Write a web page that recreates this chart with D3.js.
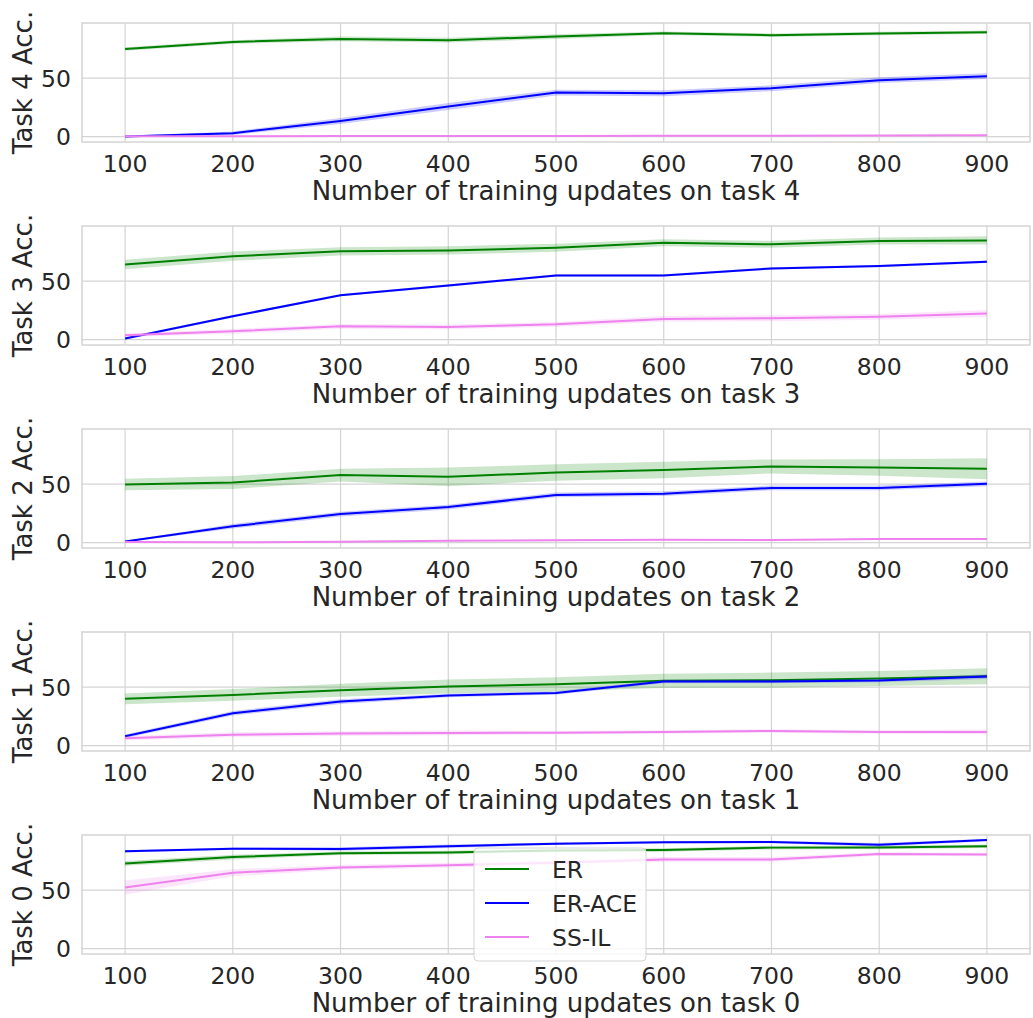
<!DOCTYPE html>
<html>
<head>
<meta charset="utf-8">
<script src="https://cdn.jsdelivr.net/npm/d3@7"></script>
<style>
	body { margin: 0; background: #fff; }
	text { font-family: "DejaVu Sans", sans-serif; fill: #262626; }
</style>
</head>
<body>
<div id="chart"></div>
<script>
// ********** TASK ACCURACY PANELS **********

// Training updates (shared x values)
const updates = [100, 200, 300, 400, 500, 600, 700, 800, 900];

// Panel order, top to bottom
const tasks = [4, 3, 2, 1, 0];

// Method names as in the legend
const methods = ['ER', 'ER-ACE', 'SS-IL'];

// Mean accuracy, one row per panel (task 4 .. task 0)
const erMean = [
	[75.0, 81.0, 83.6, 82.5, 85.6, 88.5, 86.8, 88.2, 89.3],
	[64.3, 71.4, 75.5, 76.3, 78.6, 82.9, 81.5, 84.3, 84.9],
	[49.7, 51.4, 57.8, 56.3, 60.0, 62.1, 65.2, 64.3, 63.2],
	[40.0, 43.4, 47.4, 50.5, 52.5, 55.4, 56.0, 57.4, 59.4],
	[72.9, 78.3, 81.5, 82.3, 84.0, 84.3, 86.4, 86.6, 87.5]
];
const aceMean = [
	[0.2, 2.9, 13.4, 25.7, 37.7, 37.1, 41.4, 48.3, 51.7],
	[0.9, 20.0, 38.0, 46.3, 54.9, 54.9, 60.9, 62.9, 66.6],
	[0.9, 14.0, 24.4, 30.4, 40.8, 41.9, 46.8, 46.8, 50.3],
	[8.0, 27.7, 37.7, 42.8, 45.1, 54.8, 54.8, 55.7, 59.1],
	[83.2, 85.5, 85.2, 87.5, 89.8, 90.9, 91.2, 88.9, 92.9]
];
const sslMean = [
	[0.3, 0.4, 0.5, 0.6, 0.6, 0.8, 0.8, 1.0, 1.2],
	[3.7, 7.1, 11.4, 10.9, 13.1, 17.7, 18.3, 19.5, 22.3],
	[0.5, 0.3, 0.8, 1.5, 2.0, 2.5, 2.2, 3.0, 3.2],
	[6.3, 9.4, 10.3, 10.9, 11.1, 11.7, 12.6, 11.7, 11.7],
	[52.3, 64.9, 69.5, 71.4, 73.5, 76.3, 76.3, 80.9, 80.6]
];

// Half width of the shaded band
const erBand = [
	[1.5, 1.5, 2.0, 2.0, 2.0, 1.5, 1.5, 1.5, 1.5],
	[4.0, 4.0, 3.5, 3.5, 3.5, 3.0, 3.0, 3.0, 3.5],
	[5.0, 5.5, 5.5, 8.0, 7.0, 7.0, 6.0, 7.0, 9.0],
	[4.5, 5.0, 5.5, 6.0, 6.0, 6.0, 6.5, 6.5, 6.8],
	[2.0, 2.0, 1.5, 1.5, 1.5, 1.5, 1.5, 1.5, 1.5]
];
const aceBand = [
	[0.5, 1.5, 2.5, 3.0, 2.5, 2.5, 2.5, 2.5, 2.5],
	[1.0, 1.0, 1.0, 1.0, 1.0, 1.0, 1.0, 1.0, 1.0],
	[0.5, 2.0, 2.0, 2.0, 2.0, 2.0, 2.0, 2.0, 2.0],
	[1.5, 2.0, 2.0, 1.5, 1.5, 1.5, 1.5, 1.5, 2.0],
	[1.0, 1.0, 1.5, 1.5, 1.0, 1.0, 1.0, 1.5, 1.0]
];
const sslBand = [
	[0.3, 0.3, 0.3, 0.3, 0.3, 0.3, 0.3, 0.3, 0.3],
	[1.5, 2.0, 2.0, 2.0, 2.0, 2.5, 2.5, 2.5, 3.0],
	[0.5, 0.5, 0.5, 0.5, 0.5, 0.5, 0.5, 0.5, 0.5],
	[2.0, 2.0, 2.0, 2.0, 1.5, 1.5, 1.5, 1.5, 2.0],
	[6.0, 3.0, 2.0, 2.0, 2.0, 2.0, 2.0, 1.5, 1.5]
];

// Tick values
const xTicks = [100, 200, 300, 400, 500, 600, 700, 800, 900];
const yTicks = [0, 50];

// Layout
const width = 1033, height = 1018;
const left = 82, right = 1030;
const firstTop = 23, panelStep = 203, panelHeight = 119;
const tickSize = '23.5px', labelSize = '26px';

const colors = ['#008000', '#0000ff', '#ee82ee'];
const gridColor = '#d4d4d4';

const svg = d3.select('#chart')
	.append('svg')
	.attr('width', width)
	.attr('height', height);

// x scale with matplotlib style 5% margins
const x = d3.scaleLinear()
	.domain([60, 940])
	.range([left, right]);

// shared y scale
const y = d3.scaleLinear()
	.domain([-4.6, 97.2])
	.range([panelHeight, 0]);

const renderPanel = (p, task) => {
	const g = svg.append('g')
		.attr('transform', `translate(0, ${firstTop + p * panelStep})`);

	// grid lines
	g.selectAll('line.xgrid')
		.data(xTicks)
		.enter()
		.append('line')
		.attr('x1', d => x(d))
		.attr('x2', d => x(d))
		.attr('y1', 0)
		.attr('y2', panelHeight)
		.attr('stroke', gridColor)
		.attr('stroke-width', 1.2);

	g.selectAll('line.ygrid')
		.data(yTicks)
		.enter()
		.append('line')
		.attr('x1', left)
		.attr('x2', right)
		.attr('y1', d => y(d))
		.attr('y2', d => y(d))
		.attr('stroke', gridColor)
		.attr('stroke-width', 1.2);

	// series: bands then lines
	const series = [
		{ mean: erMean[p], band: erBand[p] },
		{ mean: aceMean[p], band: aceBand[p] },
		{ mean: sslMean[p], band: sslBand[p] }
	];

	const area = d3.area()
		.x((d, i) => x(updates[i]))
		.y0(d => y(d[0] - d[1]))
		.y1(d => y(d[0] + d[1]));

	const line = d3.line()
		.x((d, i) => x(updates[i]))
		.y(d => y(d));

	series.forEach((s, k) => {
		g.append('path')
			.datum(s.mean.map((m, i) => [m, s.band[i]]))
			.attr('d', area)
			.attr('fill', colors[k])
			.attr('fill-opacity', 0.2);

		g.append('path')
			.datum(s.mean)
			.attr('d', line)
			.attr('fill', 'none')
			.attr('stroke', colors[k])
			.attr('stroke-width', 2);
	});

	// frame
	g.append('rect')
		.attr('x', left)
		.attr('y', 0)
		.attr('width', right - left)
		.attr('height', panelHeight)
		.attr('fill', 'none')
		.attr('stroke', gridColor)
		.attr('stroke-width', 1.5);

	// tick labels
	g.selectAll('text.xtick')
		.data(xTicks)
		.enter()
		.append('text')
		.attr('x', d => x(d))
		.attr('y', panelHeight + 30)
		.attr('text-anchor', 'middle')
		.attr('font-size', tickSize)
		.text(d => d);

	g.selectAll('text.ytick')
		.data(yTicks)
		.enter()
		.append('text')
		.attr('x', 71)
		.attr('y', d => y(d) + 8.5)
		.attr('text-anchor', 'end')
		.attr('font-size', tickSize)
		.text(d => d);

	// axis labels
	g.append('text')
		.attr('x', (left + right) / 2)
		.attr('y', panelHeight + 58)
		.attr('text-anchor', 'middle')
		.attr('font-size', labelSize)
		.text(`Number of training updates on task ${task}`);

	g.append('text')
		.attr('transform', `translate(32, ${panelHeight / 2}) rotate(-90)`)
		.attr('text-anchor', 'middle')
		.attr('font-size', labelSize)
		.text(`Task ${task} Acc.`);

	return g;
}

const renderLegend = (g) => {
	const lg = g.append('g')
		.attr('transform', 'translate(474, 13)');

	lg.append('rect')
		.attr('width', 172)
		.attr('height', 113)
		.attr('rx', 4)
		.attr('fill', '#fff')
		.attr('fill-opacity', 0.8)
		.attr('stroke', gridColor)
		.attr('stroke-width', 1);

	const items = lg.selectAll('g.item')
		.data(methods)
		.enter()
		.append('g')
		.attr('transform', (d, i) => `translate(0, ${21 + i * 34})`);

	items.append('line')
		.attr('x1', 11)
		.attr('x2', 55)
		.attr('stroke', (d, i) => colors[i])
		.attr('stroke-width', 2);

	items.append('text')
		.attr('x', 78)
		.attr('y', 8.5)
		.attr('font-size', tickSize)
		.text(d => d);
}

let lastPanel;
tasks.forEach((t, p) => {
	lastPanel = renderPanel(p, t);
});
renderLegend(lastPanel);
</script>
</body>
</html>
